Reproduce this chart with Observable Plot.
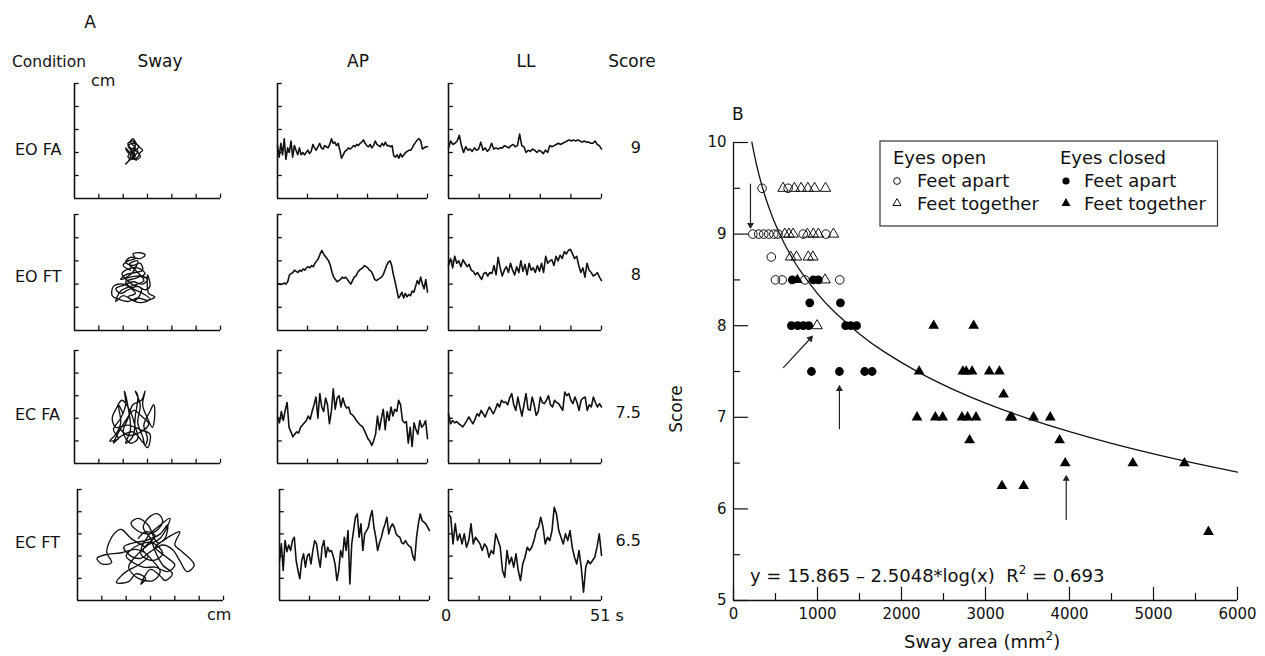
<!DOCTYPE html>
<html><head><meta charset="utf-8">
<script src="https://cdn.jsdelivr.net/npm/d3@7"></script>
<script src="https://cdn.jsdelivr.net/npm/@observablehq/plot@0.6"></script>
<style>
body{margin:0;background:#fff;}
#fig{position:relative;width:1265px;height:656px;overflow:hidden;background:#fff;font-family:"DejaVu Sans",sans-serif;}
.pnl{position:absolute;}
.pnl svg{overflow:visible;display:block;}
#ov{position:absolute;left:0;top:0;pointer-events:none;}
</style></head><body><div id="fig"></div>
<script>
// ---------- Panel A data ----------
const conditions = ["EO FA", "EO FT", "EC FA", "EC FT"];
const scores = ["9", "8", "7.5", "6.5"];

const sway1 = [[2.3,2.1],[2.5,2.3],[2.4,2.5],[2.2,2.4],[2.3,2.2],[2.6,2.1],[2.5,1.9],[2.3,2.0],[2.2,1.8],[2.4,1.7],[2.6,1.8],[2.7,2.0],[2.8,2.1],[2.6,2.3],[2.4,2.6],[2.3,2.45],[2.5,2.2],[2.2,2.0],[2.1,2.2],[2.3,1.9],[2.2,1.6],[2.1,1.5],[2.3,1.7],[2.5,1.85],[2.4,2.1],[2.6,2.0],[2.7,1.8],[2.5,1.7],[2.4,2.0],[2.2,2.3],[2.45,2.4],[2.65,2.25],[2.35,1.95],[2.55,1.65],[2.3,1.85]];
const sway2 = [[2.3,2.6],[2.0,2.8],[2.2,3.0],[2.5,3.1],[2.4,3.3],[2.7,3.35],[2.9,3.25],[2.7,3.1],[2.3,3.15],[2.1,2.95],[2.4,2.8],[2.7,2.9],[2.8,2.6],[2.5,2.5],[2.1,2.4],[1.9,2.2],[2.3,2.3],[2.7,2.35],[3.0,2.2],[2.8,2.0],[2.4,2.1],[2.0,1.95],[1.7,1.8],[1.9,1.6],[2.2,1.75],[2.6,1.9],[2.9,1.75],[3.1,1.9],[3.0,2.4],[3.05,1.6],[3.3,1.45],[3.0,1.3],[2.6,1.4],[2.2,1.25],[1.8,1.35],[1.55,1.5],[1.6,1.9],[2.0,2.0],[2.5,1.6],[2.2,1.45],[2.7,1.2],[3.1,1.35],[2.8,1.6],[2.4,1.8],[2.1,2.1],[2.5,2.25],[2.9,2.45],[2.6,2.7],[2.2,2.65],[1.95,2.45],[2.35,2.0],[2.75,1.8],[2.5,1.3],[2.0,1.5],[1.7,1.25],[1.9,1.7],[2.45,1.95],[2.85,2.15],[2.55,2.55],[2.25,2.85],[2.6,3.0],[2.35,2.45],[2.05,2.25]];
const sway3 = [[2.0,2.2],[1.8,2.6],[1.9,1.8],[1.7,1.3],[1.45,1.0],[1.8,1.1],[1.6,1.5],[1.9,2.0],[2.1,2.6],[2.05,3.2],[2.2,2.5],[2.3,1.5],[2.1,0.9],[2.4,1.2],[2.5,2.1],[2.6,3.0],[2.5,3.2],[2.7,2.6],[2.6,1.8],[2.8,1.2],[2.9,0.8],[3.0,1.1],[2.85,1.7],[3.1,2.3],[3.25,2.6],[3.3,2.2],[3.2,1.6],[3.0,2.0],[2.8,2.6],[2.9,3.2],[2.75,2.8],[2.4,2.6],[2.2,2.0],[2.0,1.4],[2.3,0.9],[2.6,1.1],[2.5,1.6],[2.3,2.3],[1.95,2.8],[1.7,2.4],[1.55,2.0],[1.7,1.6],[2.2,1.7],[2.7,1.5],[3.1,1.3],[3.0,0.7],[2.8,0.95],[2.4,1.4],[1.9,1.2],[1.6,0.9],[2.1,1.9],[2.45,2.35],[2.75,2.1],[3.05,1.75],[2.65,1.35],[2.2,1.25],[1.85,1.55]];
const sway4 = [[2.8,2.4],[2.2,2.8],[1.8,3.2],[1.5,3.0],[1.2,2.2],[1.4,1.7],[1.0,1.65],[0.8,1.9],[1.1,2.05],[1.8,2.15],[2.4,2.3],[2.9,2.0],[2.5,1.6],[2.0,1.3],[1.7,1.0],[1.6,0.8],[2.1,0.85],[2.4,1.2],[2.8,1.0],[2.6,0.73],[3.0,1.4],[3.4,1.1],[3.6,0.9],[3.9,1.2],[3.5,1.6],[3.2,2.2],[3.0,2.8],[2.7,3.3],[3.0,3.8],[3.3,3.9],[3.5,3.6],[3.3,3.2],[2.9,3.0],[2.4,3.2],[2.2,3.5],[2.5,3.7],[2.9,3.4],[3.3,2.6],[3.8,2.9],[4.2,3.1],[4.0,2.5],[4.3,2.2],[4.8,1.6],[4.5,1.3],[4.2,1.8],[3.9,2.3],[3.5,2.5],[3.0,2.2],[2.6,1.9],[2.2,2.0],[1.9,2.4],[2.3,2.6],[2.8,2.7],[3.4,3.0],[3.7,3.4],[3.6,2.8],[3.2,2.4],[3.6,2.0],[4.0,1.6],[3.7,1.3],[3.2,1.5],[2.7,1.5],[2.3,1.7],[2.0,2.0],[2.5,2.5],[3.1,2.6],[3.5,2.1],[3.1,1.8],[2.6,2.1],[2.9,2.9],[3.4,3.4],[3.8,3.7],[3.4,2.8],[2.9,2.5],[2.4,2.0],[2.1,1.5],[2.5,1.0],[3.1,0.9],[3.4,1.3],[3.0,1.9],[2.7,2.3],[3.2,2.9],[2.8,3.1],[2.5,2.8]];

const ap1 = [2.3,1.8,2.4,1.9,2.6,1.7,2.2,2.0,2.5,1.8,2.3,2.1,1.9,2.2,1.9,2.0,1.9,2.0,2.1,1.95,2.05,2.35,2.2,2.1,2.25,2.4,2.2,2.15,2.3,2.25,2.2,2.35,2.6,2.4,2.45,2.3,2.4,2.1,1.75,1.9,2.05,2.1,2.2,2.15,2.2,2.3,2.25,2.35,2.3,2.4,2.45,2.55,2.4,2.3,2.25,2.35,2.2,2.3,2.5,2.35,2.3,2.25,2.4,2.3,2.45,2.3,2.3,2.25,2.3,1.85,1.8,1.9,1.75,1.95,1.8,1.9,2.0,2.05,2.1,2.1,2.2,2.35,2.45,2.55,2.6,2.5,2.15,2.2,2.25,2.25];
const ll1 = [2.2,2.5,2.35,2.4,2.5,2.75,2.3,2.0,2.25,2.1,2.15,2.05,2.2,2.1,2.15,2.45,2.1,2.2,2.05,2.15,2.4,2.15,2.2,2.15,2.2,2.2,2.3,2.25,2.2,2.3,2.35,2.25,2.3,2.8,2.3,2.25,2.0,2.1,2.05,2.15,2.1,2.0,2.1,2.05,1.95,2.1,2.0,2.3,2.25,2.3,2.35,2.4,2.35,2.4,2.45,2.5,2.55,2.5,2.55,2.5,2.55,2.5,2.45,2.5,2.45,2.45,2.4,2.4,2.5,2.35,2.3,2.15];
const ap2 = [2.0,2.02,1.98,2.0,2.05,2.0,2.1,2.4,2.45,2.5,2.6,2.55,2.5,2.6,2.55,2.65,2.6,2.7,2.75,2.7,2.8,2.75,2.9,3.0,3.1,3.3,3.45,3.3,3.2,3.1,3.0,2.8,2.5,2.3,2.2,2.1,2.15,2.2,2.3,2.25,2.3,2.2,2.1,2.0,2.15,2.3,2.35,2.5,2.6,2.65,2.7,2.8,2.75,2.7,2.6,2.55,2.4,2.2,2.15,2.2,2.25,2.3,2.4,2.6,2.8,2.95,3.0,2.8,2.4,2.1,1.75,1.4,1.5,1.65,1.4,1.6,1.45,1.55,1.5,1.7,1.65,1.9,2.15,2.0,2.3,2.0,1.8,2.2,1.65];
const ll2 = [2.8,3.1,2.7,3.2,2.9,3.0,2.75,3.05,2.9,2.75,2.85,2.6,2.55,2.4,2.5,2.35,2.2,2.45,2.5,2.35,2.5,2.45,2.8,2.4,3.15,2.7,2.35,2.6,2.75,2.5,2.9,2.6,2.4,2.75,2.5,3.0,2.55,2.85,2.4,2.9,2.6,2.7,2.5,2.8,2.55,2.9,2.5,3.2,2.9,3.0,3.05,2.8,3.2,3.0,3.25,3.1,3.4,3.3,3.45,3.5,3.3,3.1,3.2,2.8,2.5,2.7,2.3,2.9,2.6,2.5,2.35,2.4,2.5,2.3,2.15];
const ap3 = [2.06,1.8,2.3,1.9,2.35,2.7,1.6,1.4,1.18,1.3,1.4,1.35,1.6,1.7,1.8,1.9,2.1,1.95,2.3,2.6,2.94,2.0,3.1,2.5,2.3,2.9,2.6,1.76,2.3,3.3,2.4,2.9,3.0,2.5,2.9,2.6,2.45,2.5,2.2,2.15,2.05,1.9,1.8,1.7,1.65,1.5,1.3,1.1,1.0,0.8,1.0,1.3,2.1,1.5,2.0,2.4,1.5,2.3,1.9,2.5,2.1,2.4,2.3,2.8,2.6,1.9,1.8,1.85,0.9,1.6,0.75,1.8,1.5,1.3,1.9,1.6,1.7,1.9,1.1];
const ll3 = [2.2,1.76,1.9,1.8,1.85,1.76,1.7,1.62,1.75,1.9,2.06,1.9,1.76,1.95,2.2,2.1,2.35,2.2,2.06,2.3,2.5,2.35,2.2,2.4,2.65,2.5,2.8,2.7,2.72,2.6,2.9,3.09,2.6,2.35,2.94,2.5,2.1,2.6,3.09,2.4,2.35,2.94,2.6,2.13,2.3,2.94,2.7,2.65,2.8,3.0,2.6,2.5,2.8,2.7,2.65,2.5,2.35,3.16,3.0,3.09,2.8,2.65,2.94,2.7,2.35,2.8,2.9,2.94,2.35,2.6,2.5,2.94,2.7,2.5,2.65,2.5];
const ap4 = [1.8,2.55,1.35,2.7,2.2,2.5,2.25,2.7,2.85,1.8,1.35,0.98,1.8,2.1,1.5,2.0,2.1,1.65,2.25,2.7,2.55,1.95,1.5,2.4,2.7,1.95,2.4,2.2,2.25,2.0,1.65,0.9,1.35,2.25,1.95,2.85,2.25,3.15,0.75,2.55,3.15,3.75,3.9,2.85,3.45,2.25,3.0,3.15,3.3,3.75,4.05,3.3,2.85,2.25,2.6,2.85,3.2,3.45,3.75,3.0,3.3,3.45,3.3,3.0,2.9,2.85,2.6,2.55,2.7,2.55,2.45,2.4,2.0,1.8,2.85,3.45,3.9,3.6,3.53,3.45,3.3,3.15];
const ll4 = [3.9,3.75,2.55,3.45,2.7,3.0,2.55,3.0,2.4,2.7,3.45,2.55,2.85,2.7,2.55,2.25,2.55,2.4,1.95,2.25,2.1,3.0,2.7,2.4,1.35,1.05,2.25,1.65,1.95,1.5,2.1,1.35,0.9,1.65,1.95,2.4,2.25,2.4,2.7,3.15,3.3,3.75,3.3,2.55,2.85,2.7,3.15,4.2,3.9,3.15,2.85,2.55,3.0,2.7,3.15,2.4,1.95,1.65,2.25,1.5,0.37,1.5,1.8,1.65,1.8,1.95,2.4,3.0,2.03];

const swayXTicks = [1, 2, 3, 4, 5, 6];
const traceXTicks = [10.2, 20.4, 30.6, 40.8, 51];
const yTicksA = [1, 2, 3, 4, 5];

// ---------- Panel B data ----------
const eoFeetApart = [[340,9.5],[650,9.5],[230,9],[300,9],[360,9],[420,9],[480,9],[530,9],[830,9],[1100,9],[450,8.75],[500,8.5],[580,8.5],[850,8.5],[1265,8.5]];
const eoFeetTogether = [[590,9.5],[725,9.5],[805,9.5],[885,9.5],[965,9.5],[1095,9.5],[610,9],[660,9],[710,9],[880,9],[950,9],[1010,9],[1190,9],[680,8.75],[750,8.75],[890,8.75],[945,8.75],[1090,8.5],[995,8]];
const ecFeetApart = [[700,8.5],[950,8.5],[1010,8.5],[908,8.25],[1273,8.25],[690,8],[765,8],[830,8],[895,8],[1335,8],[1395,8],[1465,8],[928,7.5],[1261,7.5],[1562,7.5],[1650,7.5]];
const ecFeetTogether = [[760,8.5],[2383,8],[2859,8],[2210,7.5],[2730,7.5],[2770,7.5],[2840,7.5],[3045,7.5],[3165,7.5],[3215,7.25],[2185,7],[2403,7],[2490,7],[2720,7],[2787,7],[2887,7],[3295,7],[3315,7],[3572,7],[3771,7],[2811,6.75],[3882,6.75],[3949,6.5],[4754,6.5],[5368,6.5],[3196,6.25],[3454,6.25],[5654,5.75]];
const arrowFrom = [[202,9.55],[591,7.54],[1261,6.87],[3961,5.88]];
const arrowTo = [[202,9.1],[915,7.86],[1261,7.31],[3961,6.33]];
const arrowHeadTurn = [180, 43, 0, 0];
const fitA = 15.865, fitB = 2.5048;           // printed fit: y = 15.865 - 2.5048*log(x)
const fitXs = [219,230,245,260,280,300,330,360,400,450,500,600,700,800,1000,1200,1500,1800,2200,2600,3000,3500,4000,4500,5000,5500,6000];
const xTickLabels = [0,1000,2000,3000,4000,5000,6000];
const xMinor = [500,1500,2500,3500,4500,5500];
const yTickLabels = [5,6,7,8,9,10];
const yMinor = [5.5,6.5,7.5,8.5,9.5];

// ---------- layout ----------
const fig = document.getElementById("fig");
const rowsA = [
  {top: 83, h: 115, sway: sway1, ap: ap1, ll: ll1, swayLeft: 74, apLeft: 277},
  {top: 214, h: 116, sway: sway2, ap: ap2, ll: ll2, swayLeft: 74, apLeft: 277},
  {top: 350, h: 113, sway: sway3, ap: ap3, ll: ll3, swayLeft: 74, apLeft: 277},
  {top: 489, h: 111, sway: sway4, ap: ap4, ll: ll4, swayLeft: 77, apLeft: 279}
];

function place(svg, left, top, w, h) {
  const d = document.createElement("div");
  d.className = "pnl";
  d.style.left = left + "px"; d.style.top = top + "px";
  d.style.width = w + "px"; d.style.height = h + "px";
  d.appendChild(svg);
  fig.appendChild(d);
}

function smallPanel(left, top, w, h, xMax, xTicks, marks) {
  const m = 3;
  const svg = Plot.plot({
    width: w + 2 * m, height: h + 2 * m, margin: m,
    x: {domain: [0, xMax], axis: null},
    y: {domain: [0, 5], axis: null},
    style: {background: "transparent", overflow: "visible"},
    marks: [
      Plot.ruleX([0], {y1: 0, y2: 5, stroke: "#111", strokeWidth: 1.6}),
      Plot.ruleY([0], {x1: 0, x2: xMax, stroke: "#111", strokeWidth: 1.6}),
      Plot.ruleX(xTicks, {x: d => d, y1: 0, y2: 0.19, stroke: "#111", strokeWidth: 1.3}),
      Plot.ruleY(yTicksA, {y: d => d, x1: 0, x2: xMax * 0.032, stroke: "#111", strokeWidth: 1.3}),
      ...marks
    ]
  });
  place(svg, left - m, top - m, w + 2 * m, h + 2 * m);
}

rowsA.forEach(r => {
  smallPanel(r.swayLeft, r.top, 146, r.h, 6, swayXTicks, [
    Plot.line(r.sway, {x: d => d[0], y: d => d[1], curve: "catmull-rom", stroke: "#111", strokeWidth: 1.35})
  ]);
  smallPanel(r.apLeft, r.top, 150, r.h, 51, traceXTicks, [
    Plot.lineY(r.ap, {x: (d, i) => i * 51 / (r.ap.length - 1), y: d => d, stroke: "#111", strokeWidth: 1.6})
  ]);
  smallPanel(448, r.top, 153, r.h, 51, traceXTicks, [
    Plot.lineY(r.ll, {x: (d, i) => i * 51 / (r.ll.length - 1), y: d => d, stroke: "#111", strokeWidth: 1.6})
  ]);
});

// ---------- Panel B ----------
const arrows = arrowFrom.map((f, i) => ({x1: f[0], y1: f[1], x2: arrowTo[i][0], y2: arrowTo[i][1], turn: arrowHeadTurn[i]}));
const B = Plot.plot({
  width: 620, height: 566, marginLeft: 93, marginRight: 23, marginTop: 52, marginBottom: 56,
  x: {domain: [0, 6000], axis: null},
  y: {domain: [5, 10], axis: null},
  style: {fontFamily: "DejaVu Sans, sans-serif", fontSize: "15px", color: "#111", background: "transparent", overflow: "visible"},
  marks: [
    Plot.ruleX([0], {y1: 5, y2: 10, stroke: "#111", strokeWidth: 1.3}),
    Plot.ruleY([5], {x1: 0, x2: 6000, stroke: "#111", strokeWidth: 1.3}),
    Plot.ruleY(yTickLabels, {y: d => d, x1: 0, x2: 178, stroke: "#111", strokeWidth: 1.2}),
    Plot.ruleY(yMinor, {y: d => d, x1: 0, x2: 83, stroke: "#111", strokeWidth: 1.2}),
    Plot.ruleX(xTickLabels, {x: d => d, y1: 5, y2: 5.142, stroke: "#111", strokeWidth: 1.2}),
    Plot.ruleX(xMinor, {x: d => d, y1: 5, y2: 5.076, stroke: "#111", strokeWidth: 1.2}),
    Plot.axisX({ticks: xTickLabels, tickSize: 0, tickPadding: 8, label: null, fontSize: 15, tickFormat: d => String(d)}),
    Plot.axisY({ticks: yTickLabels, tickSize: 0, tickPadding: 7, label: null, fontSize: 15, tickFormat: d => String(d)}),
    Plot.line(fitXs, {x: d => d, y: d => fitA - fitB * Math.log10(d), stroke: "#111", strokeWidth: 1.3, curve: "natural"}),
    Plot.dot(eoFeetApart, {x: d => d[0], y: d => d[1], r: 4.3, stroke: "#111", fill: "none", strokeWidth: 1}),
    Plot.dot(eoFeetTogether, {x: d => d[0], y: d => d[1], r: 3.9, symbol: "triangle", stroke: "#111", fill: "none", strokeWidth: 1}),
    Plot.dot(ecFeetApart, {x: d => d[0], y: d => d[1], r: 4.4, fill: "#000", stroke: "none"}),
    Plot.dot(ecFeetTogether, {x: d => d[0], y: d => d[1], r: 4.0, symbol: "triangle", fill: "#000", stroke: "none"}),
    Plot.link(arrows, {x1: "x1", y1: "y1", x2: "x2", y2: "y2", stroke: "#222", strokeWidth: 1.2}),
    Plot.dot(arrows, {x: "x2", y: "y2", symbol: "triangle", r: 2.6, rotate: "turn", fill: "#222", stroke: "none"})
  ]
});
place(B, 640, 90, 620, 566);

// ---------- text overlay ----------
const NS = "http://www.w3.org/2000/svg";
const ov = document.createElementNS(NS, "svg");
ov.setAttribute("id", "ov"); ov.setAttribute("width", 1265); ov.setAttribute("height", 656);
ov.setAttribute("font-family", "DejaVu Sans, sans-serif"); ov.setAttribute("fill", "#111");
function txt(x, y, html, size, anchor = "start", rot = 0) {
  const t = document.createElementNS(NS, "text");
  t.setAttribute("x", x); t.setAttribute("y", y);
  t.setAttribute("font-size", size); t.setAttribute("text-anchor", anchor);
  t.setAttribute("style", "white-space:pre");
  if (rot) t.setAttribute("transform", `rotate(${rot},${x},${y})`);
  t.innerHTML = html;
  ov.appendChild(t);
}
function el(tag, attrs) {
  const e = document.createElementNS(NS, tag);
  for (const k in attrs) e.setAttribute(k, attrs[k]);
  ov.appendChild(e);
}
// Panel A labels
txt(90, 28, "A", 17, "middle");
txt(12, 67, "Condition", 15.5);
txt(160, 67, "Sway", 17, "middle");
txt(358, 67, "AP", 17, "middle");
txt(526, 67, "LL", 17, "middle");
txt(632, 67, "Score", 17, "middle");
txt(91, 86, "cm", 16);
const rowBase = [155, 282, 420, 548];
conditions.forEach((c, i) => txt(15, rowBase[i], c, 16));
scores.forEach((s, i) => txt(641, rowBase[i] - 2, s, 16, "end"));
txt(207, 620, "cm", 16);
txt(446, 621, "0", 16, "middle");
txt(590, 621, "51 s", 16);
// Panel B labels
txt(732, 120, "B", 17);
txt(682, 409, "Score", 17, "middle", -90);
txt(904, 648, 'Sway area (mm<tspan dy="-8" font-size="12">2</tspan><tspan dy="8">)</tspan>', 18);
txt(750, 582, 'y = 15.865 – 2.5048*log(x)&#160;&#160;R<tspan dy="-8" font-size="12">2</tspan><tspan dy="8"> = 0.693</tspan>', 18);
// legend
el("rect", {x: 880, y: 141, width: 337.5, height: 85, fill: "#fff", stroke: "#333", "stroke-width": 1.2});
txt(893, 164, "Eyes open", 18);
txt(917, 187, "Feet apart", 18);
txt(917, 209.5, "Feet together", 18);
txt(1060, 164, "Eyes closed", 18);
txt(1084, 187, "Feet apart", 18);
txt(1084, 209.5, "Feet together", 18);
el("circle", {cx: 897, cy: 181, r: 3.4, fill: "none", stroke: "#111", "stroke-width": 1});
el("path", {d: "M897,198.5 L901,205.5 L893,205.5 Z", fill: "none", stroke: "#111", "stroke-width": 1});
el("circle", {cx: 1066, cy: 181, r: 3.6, fill: "#000"});
el("path", {d: "M1066,198 L1070.5,206 L1061.5,206 Z", fill: "#000"});
fig.appendChild(ov);
</script>
</body></html>
